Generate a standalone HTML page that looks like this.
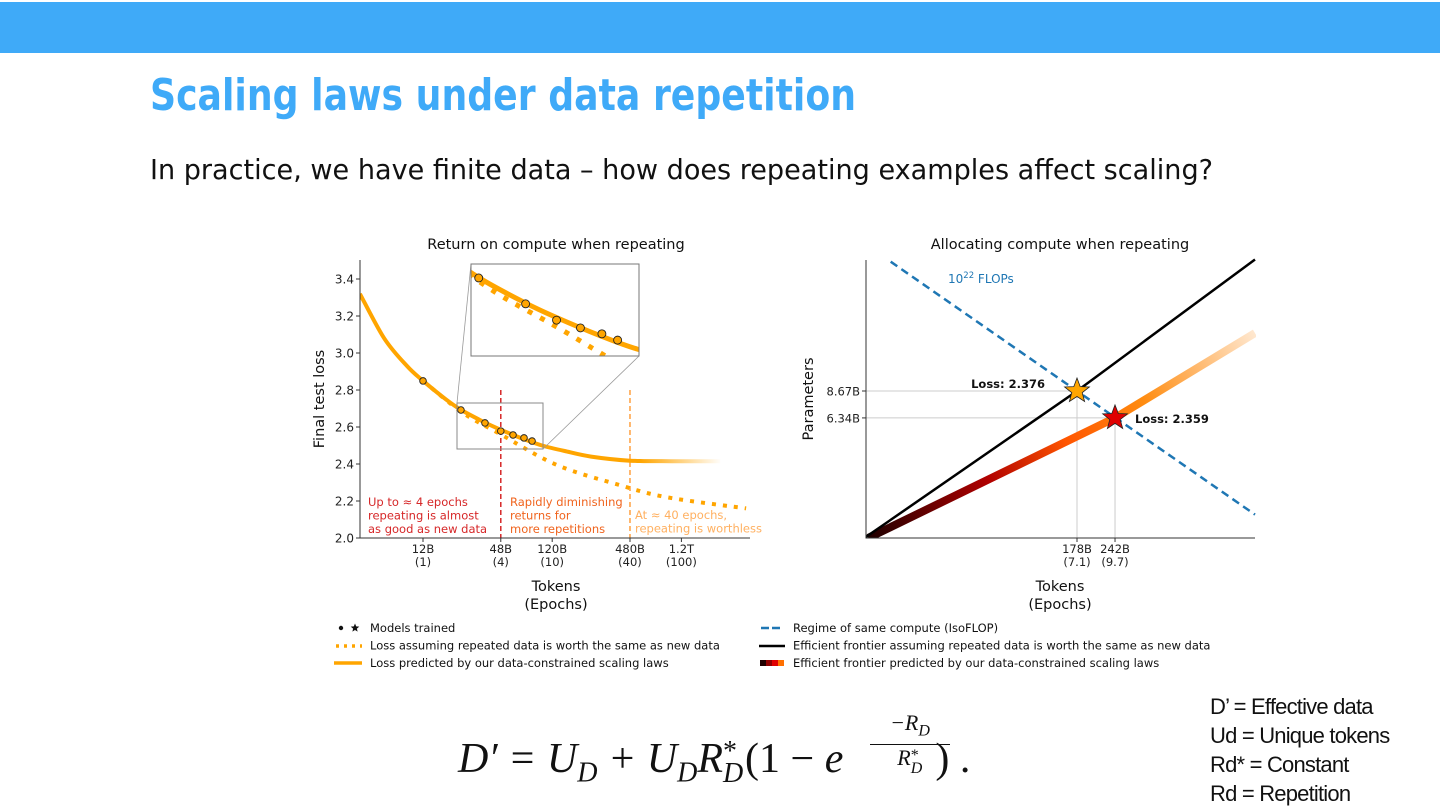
<!DOCTYPE html>
<html><head><meta charset="utf-8"><style>
body{margin:0;width:1440px;height:810px;background:#fff;overflow:hidden;position:relative;font-family:"Liberation Sans",sans-serif}
.abs{position:absolute;white-space:nowrap}
.st{position:relative;display:inline-block;height:0;vertical-align:baseline}
.st span{position:absolute;left:0;line-height:1}
</style></head><body>
<div class="abs" style="left:0;top:2px;width:1440px;height:51px;background:#3faaf8"></div>
<div class="abs fit" data-w="706" style="left:150px;top:70px;font-size:44px;font-weight:bold;color:#3faaf8;font-family:'DejaVu Sans',sans-serif;transform-origin:0 0">Scaling laws under data repetition</div>
<div class="abs fit" data-w="1063" style="left:150px;top:153px;font-size:28px;color:#111;font-family:'DejaVu Sans',sans-serif;transform-origin:0 0">In practice, we have finite data – how does repeating examples affect scaling?</div>

<svg class="abs" style="left:0;top:0" width="1440" height="810" font-family="DejaVu Sans, sans-serif">
<defs>
<linearGradient id="fadeSolid" gradientUnits="userSpaceOnUse" x1="640" y1="0" x2="722" y2="0">
<stop offset="0" stop-color="#ffa500" stop-opacity="1"/><stop offset="1" stop-color="#ffa500" stop-opacity="0"/></linearGradient>
<linearGradient id="frontierGrad" gradientUnits="userSpaceOnUse" x1="870" y1="538" x2="1255" y2="333">
<stop offset="0" stop-color="#200000"/><stop offset="0.3" stop-color="#b00000"/><stop offset="0.5" stop-color="#ff5500"/><stop offset="0.7" stop-color="#ff8c10"/><stop offset="1" stop-color="#ffe8d0"/></linearGradient>
<clipPath id="insetClip"><rect x="471" y="264" width="168" height="92"/></clipPath>
<clipPath id="leftClip"><rect x="360" y="255" width="400" height="283"/></clipPath>
</defs>
<g id="left"></g>
<g id="right"></g>
<g id="legend" font-size="11.5" fill="#111"></g>
</svg>

<div class="abs" style="left:458px;top:735px;font-family:'Liberation Serif',serif;font-style:italic;font-size:42px;color:#111">D′ = U<sub style="font-size:28px">D</sub> + U<sub style="font-size:28px">D</sub>R<span class="st" style="width:22px;font-size:28px"><span style="top:-34px;font-style:normal">*</span><span style="top:-12px">D</span></span><span style="font-style:normal">(1 − </span>e<span style="display:inline-block;width:92px"></span><span style="font-style:normal">) .</span></div>
<div class="abs" style="left:870px;top:712px;font-family:'Liberation Serif',serif;font-style:italic;font-size:22px;color:#111;text-align:center;width:80px;line-height:22px"><div style="border-bottom:1.5px solid #111;padding-bottom:2px">−R<sub style="font-size:16px">D</sub></div><div style="padding-top:2px">R<span class="st" style="width:12px;font-size:16px"><span style="top:-17px;font-style:normal">*</span><span style="top:-4px">D</span></span></div></div>
<div class="abs" style="left:1210px;top:692px;font-size:22px;line-height:29px;color:#111;letter-spacing:-0.8px">D’ = Effective data<br>Ud = Unique tokens<br>Rd* = Constant<br>Rd = Repetition</div>

<script>
// ---------- Left chart data ----------
const leftYTicks = [2.0, 2.2, 2.4, 2.6, 2.8, 3.0, 3.2, 3.4];
const leftXTicks = [12, 48, 120, 480, 1200];
const leftXTickLabels = ["12B", "48B", "120B", "480B", "1.2T"];
const leftXEpochLabels = ["(1)", "(4)", "(10)", "(40)", "(100)"];
const solidTokens = [3.9, 6, 9, 12, 18, 24, 36, 48, 72, 100, 150, 240, 480, 1000, 2400];
const solidLoss   = [3.32, 3.08, 2.93, 2.85, 2.75, 2.69, 2.625, 2.585, 2.535, 2.50, 2.47, 2.44, 2.418, 2.415, 2.415];
const dottedTokens = [12, 24, 48, 130, 400, 930, 3800];
const dottedLoss   = [2.85, 2.68, 2.56, 2.395, 2.286, 2.22, 2.16];
const modelTokens = [12, 23.6, 36.2, 48, 59.7, 72.6, 83.8];
const modelLoss   = [2.849, 2.692, 2.622, 2.578, 2.557, 2.541, 2.524];
// ---------- Right chart data ----------
const isoTokens = [39.5, 750];
const isoParams = [39.0, 2.06];
const naiveTokens = [32, 178, 750];
const naiveParams = [1.57, 8.67, 40];
const constrTokens = [33, 242, 750];
const constrParams = [1.57, 6.34, 17];
const starTokens = [178, 242];
const starParams = [8.67, 6.34];
const starLosses = ["Loss: 2.376", "Loss: 2.359"];
const rightXTicks = [178, 242];
const rightXTickLabels = ["178B", "242B"];
const rightXEpochLabels = ["(7.1)", "(9.7)"];
const rightYTicks = [8.67, 6.34];
const rightYTickLabels = ["8.67B", "6.34B"];

document.querySelectorAll('.fit').forEach(e=>{const w=e.getBoundingClientRect().width;e.style.transform='scaleX('+(+e.dataset.w/w)+')';});

const NS = "http://www.w3.org/2000/svg";
function mk(parent, tag, attrs, text){const e=document.createElementNS(NS,tag);for(const k in attrs)e.setAttribute(k,attrs[k]);if(text!==undefined)e.textContent=text;parent.appendChild(e);return e;}

const lx = t => 423 + (Math.log10(t) - Math.log10(12)) * 129.2;
const ly = v => 538 - (v - 2.0) * 185;
const L = document.getElementById('left');
const pathOf = (xs, ys, fx, fy) => xs.map((x,i)=>(i?'L':'M')+fx(x).toFixed(1)+','+fy(ys[i]).toFixed(1)).join(' ');
function smoothOf(xs, ys, fx, fy){
  const p = xs.map((x,i)=>[fx(x),fy(ys[i])]);
  let d='M'+p[0][0].toFixed(1)+','+p[0][1].toFixed(1);
  for(let i=0;i<p.length-1;i++){
    const p0=p[Math.max(0,i-1)],p1=p[i],p2=p[i+1],p3=p[Math.min(p.length-1,i+2)];
    const c1=[p1[0]+(p2[0]-p0[0])/6,p1[1]+(p2[1]-p0[1])/6];
    const c2=[p2[0]-(p3[0]-p1[0])/6,p2[1]-(p3[1]-p1[1])/6];
    d+=' C'+c1.map(v=>v.toFixed(1)).join(',')+' '+c2.map(v=>v.toFixed(1)).join(',')+' '+p2[0].toFixed(1)+','+p2[1].toFixed(1);
  }
  return d;
}
const ix = x => 471 + (x - 457) * (168/86);
const iy = y => 264 + (y - 403) * 2;

let t = mk(L,'text',{x:556,y:249,'text-anchor':'middle','font-size':14.5,fill:'#111'},'Return on compute when repeating');
 

let v1 = mk(L,'line',{x1:lx(48),x2:lx(48),y1:390,y2:538,stroke:'#d62728','stroke-width':1.5,'stroke-dasharray':'5,3'});
 
let v2 = mk(L,'line',{x1:lx(480),x2:lx(480),y1:390,y2:538,stroke:'#ffa040','stroke-width':1.5,'stroke-dasharray':'5,3'});
 

const defs=document.querySelector('defs');
const cp=mk(defs,'clipPath',{id:'solidMain'}); mk(cp,'rect',{x:0,y:0,width:640,height:810});
const cp2=mk(defs,'clipPath',{id:'solidFade'}); mk(cp2,'rect',{x:640,y:0,width:82,height:810});
const gc = mk(L,'g',{'clip-path':'url(#leftClip)'});
let dp = mk(gc,'path',{d:smoothOf(dottedTokens,dottedLoss,lx,ly),fill:'none',stroke:'#ffa500','stroke-width':4,'stroke-dasharray':'4,7'});
 
const sp1 = mk(gc,'path',{d:smoothOf(solidTokens,solidLoss,lx,ly),fill:'none',stroke:'#ffa500','stroke-width':4,'clip-path':'url(#solidMain)'});
 
const sp2 = mk(gc,'path',{d:smoothOf(solidTokens,solidLoss,lx,ly),fill:'none',stroke:'url(#fadeSolid)','stroke-width':4,'clip-path':'url(#solidFade)'});
 

modelTokens.forEach((tk,i)=>{
  const c = mk(L,'circle',{cx:lx(tk),cy:ly(modelLoss[i]),r:3.3,fill:'#ffa500',stroke:'#222','stroke-width':0.9});
   
});

let zb = mk(L,'rect',{x:457,y:403,width:86,height:46,fill:'none',stroke:'#888','stroke-width':1});
 
mk(L,'line',{x1:457,y1:403,x2:471,y2:264,stroke:'#999','stroke-width':0.8});
mk(L,'line',{x1:543,y1:449,x2:639,y2:356,stroke:'#999','stroke-width':0.8});
const ig = mk(L,'g',{'clip-path':'url(#insetClip)'});
 
mk(ig,'rect',{x:471,y:264,width:168,height:92,fill:'#fff'});
mk(ig,'path',{d:smoothOf(dottedTokens,dottedLoss,t=>ix(lx(t)),v=>iy(ly(v))),fill:'none',stroke:'#ffa500','stroke-width':5,'stroke-dasharray':'5,9'});
mk(ig,'path',{d:smoothOf(solidTokens,solidLoss,t=>ix(lx(t)),v=>iy(ly(v))),fill:'none',stroke:'#ffa500','stroke-width':5});
modelTokens.forEach((tk,i)=>{
  const c = mk(ig,'circle',{cx:ix(lx(tk)),cy:iy(ly(modelLoss[i])),r:4,fill:'#ffa500',stroke:'#222','stroke-width':0.9});
   
});
mk(L,'rect',{x:471,y:264,width:168,height:92,fill:'none',stroke:'#777','stroke-width':1});

let ax = mk(L,'path',{d:'M360,260 L360,538 L750,538',fill:'none',stroke:'#333','stroke-width':1});
 
leftYTicks.forEach(v=>{
  mk(L,'line',{x1:356,x2:360,y1:ly(v),y2:ly(v),stroke:'#333'});
  const tx = mk(L,'text',{x:354,y:ly(v)+4.5,'text-anchor':'end','font-size':12,fill:'#222'},v.toFixed(1));
   
});
leftXTicks.forEach((v,i)=>{
  mk(L,'line',{x1:lx(v),x2:lx(v),y1:538,y2:542,stroke:'#333'});
  const a = mk(L,'text',{x:lx(v),y:553,'text-anchor':'middle','font-size':11.5,fill:'#222'},leftXTickLabels[i]);
   
  const b = mk(L,'text',{x:lx(v),y:566,'text-anchor':'middle','font-size':11.5,fill:'#222'},leftXEpochLabels[i]);
   
});
let xt = mk(L,'text',{x:556,y:591,'text-anchor':'middle','font-size':14.5,fill:'#111'},'Tokens');
 
let xt2 = mk(L,'text',{x:556,y:609,'text-anchor':'middle','font-size':14.5,fill:'#111'},'(Epochs)');
 
let yt = mk(L,'text',{x:0,y:0,transform:'translate(324,399) rotate(-90)','text-anchor':'middle','font-size':14.5,fill:'#111'},'Final test loss');
 
const ann = [[368,'#d62728',['Up to ≈ 4 epochs','repeating is almost','as good as new data'],502],
             [510,'#f0641e',['Rapidly diminishing','returns for','more repetitions'],502],
             [635,'#ffb060',['At ≈ 40 epochs,','repeating is worthless'],515]];
ann.forEach(a=>{a[2].forEach((s,j)=>{const e=mk(L,'text',{x:a[0],y:a[3]+4+j*13.5,'font-size':11.5,fill:a[1]},s);
  });});

// ---------- right chart ----------
const R = document.getElementById('right');
const rx = d => 1077 + (Math.log10(d) - Math.log10(178)) * 285;
const ry = n => 391 - (Math.log10(n) - Math.log10(8.67)) * 198;
let rt = mk(R,'text',{x:1060,y:249,'text-anchor':'middle','font-size':14.5,fill:'#111'},'Allocating compute when repeating');
 
starTokens.forEach((d,i)=>{
  mk(R,'line',{x1:866,x2:rx(d),y1:ry(starParams[i]),y2:ry(starParams[i]),stroke:'#ccc','stroke-width':1});
  mk(R,'line',{x1:rx(d),x2:rx(d),y1:ry(starParams[i]),y2:538,stroke:'#ccc','stroke-width':1});
});
const cp3=mk(defs,'clipPath',{id:'rightClip'}); mk(cp3,'rect',{x:866,y:258,width:390,height:280});
const rc = mk(R,'g',{'clip-path':'url(#rightClip)'});
let fr = mk(rc,'path',{d:pathOf(constrTokens,constrParams,rx,ry),fill:'none',stroke:'url(#frontierGrad)','stroke-width':8});
 
let nf = mk(rc,'path',{d:pathOf(naiveTokens,naiveParams,rx,ry),fill:'none',stroke:'#000','stroke-width':2.5});
 
let iso = mk(rc,'path',{d:pathOf(isoTokens,isoParams,rx,ry),fill:'none',stroke:'#1f77b4','stroke-width':2.5,'stroke-dasharray':'8,5'});
 
const starPts = (cx,cy,ro,ri)=>{let p=[];for(let k=0;k<10;k++){const r=k%2?ri:ro;const a=-Math.PI/2+k*Math.PI/5;p.push((cx+r*Math.cos(a)).toFixed(1)+','+(cy+r*Math.sin(a)).toFixed(1));}return p.join(' ');};
const starColors=['#ffa500','#e00000'];
starTokens.forEach((d,i)=>{
  const s=mk(R,'polygon',{points:starPts(rx(d),ry(starParams[i]),13,5.5),fill:starColors[i],stroke:'#222','stroke-width':0.8});
   
});
let l1 = mk(R,'text',{x:rx(178)-32,y:ry(8.67)-3,'text-anchor':'end','font-size':11.5,'font-weight':'bold',fill:'#111'},starLosses[0]);
 
let l2 = mk(R,'text',{x:rx(242)+20,y:ry(6.34)+5,'font-size':11.5,'font-weight':'bold',fill:'#111'},starLosses[1]);
 
let fl = mk(R,'text',{x:948,y:283,'font-size':12,fill:'#1f77b4'},'');
 
fl.innerHTML='10<tspan dy="-5" font-size="8.5">22</tspan><tspan dy="5"> FLOPs</tspan>';
let rax = mk(R,'path',{d:'M866,260 L866,538 L1255,538',fill:'none',stroke:'#333','stroke-width':1});
 
rightYTicks.forEach((v,i)=>{
  mk(R,'line',{x1:862,x2:866,y1:ry(v),y2:ry(v),stroke:'#333'});
  const e=mk(R,'text',{x:860,y:ry(v)+4.5,'text-anchor':'end','font-size':11.5,fill:'#222'},rightYTickLabels[i]);
   
});
rightXTicks.forEach((v,i)=>{
  mk(R,'line',{x1:rx(v),x2:rx(v),y1:538,y2:542,stroke:'#333'});
  const a=mk(R,'text',{x:rx(v),y:553,'text-anchor':'middle','font-size':11.5,fill:'#222'},rightXTickLabels[i]);
   
  const b=mk(R,'text',{x:rx(v),y:566,'text-anchor':'middle','font-size':11.5,fill:'#222'},rightXEpochLabels[i]);
   
});
let rxt=mk(R,'text',{x:1060,y:591,'text-anchor':'middle','font-size':14.5,fill:'#111'},'Tokens');
 
let rxt2=mk(R,'text',{x:1060,y:609,'text-anchor':'middle','font-size':14.5,fill:'#111'},'(Epochs)');
 
let ryt=mk(R,'text',{x:0,y:0,transform:'translate(813,399) rotate(-90)','text-anchor':'middle','font-size':14.5,fill:'#111'},'Parameters');
 

// ---------- legend ----------
const G=document.getElementById('legend');
const legendLabels=['Models trained','Loss assuming repeated data is worth the same as new data','Loss predicted by our data-constrained scaling laws',
 'Regime of same compute (IsoFLOP)','Efficient frontier assuming repeated data is worth the same as new data','Efficient frontier predicted by our data-constrained scaling laws'];
legendLabels.forEach((s,i)=>{
  const x = i<3?370:793, y = 632+(i%3)*17.5;
  const e=mk(G,'text',{x:x,y:y},s);
   
});
mk(G,'circle',{cx:341,cy:628,r:2.2,fill:'#111'});
mk(G,'polygon',{points:starPts(355,628,4.5,2),fill:'#111'});
mk(G,'line',{x1:336,x2:362,y1:646,y2:646,stroke:'#ffa500','stroke-width':3.5,'stroke-dasharray':'3,5'});
mk(G,'line',{x1:334,x2:362,y1:663,y2:663,stroke:'#ffa500','stroke-width':3.5});
mk(G,'line',{x1:761,x2:783,y1:628,y2:628,stroke:'#1f77b4','stroke-width':2.5,'stroke-dasharray':'8,3'});
mk(G,'line',{x1:759,x2:785,y1:646,y2:646,stroke:'#000','stroke-width':2.5});
['#200000','#900000','#e00000','#ff7000'].forEach((c,k)=>mk(G,'rect',{x:760+k*6,y:660,width:6,height:6,fill:c}));
</script>
</body></html>
